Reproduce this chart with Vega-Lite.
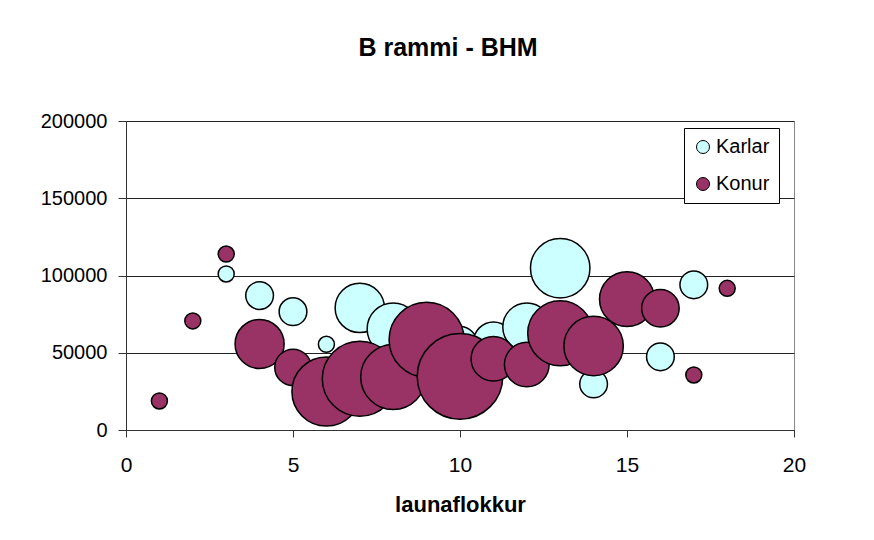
{
  "$schema": "https://vega.github.io/schema/vega-lite/v6.json",
  "autosize": "none",
  "width": 668,
  "height": 309,
  "padding": {"left": 126, "top": 121, "right": 80, "bottom": 110},
  "background": "white",
  "title": {
    "text": "B rammi - BHM",
    "font": "Liberation Sans",
    "fontSize": 25,
    "fontWeight": "bold",
    "color": "black",
    "anchor": "middle",
    "dx": -12,
    "offset": 50
  },
  "data": {
    "values": [
      {"launaflokkur": 3, "laun": 101000, "fjoldi": 1, "kyn": "Karlar"},
      {"launaflokkur": 4, "laun": 87000, "fjoldi": 3, "kyn": "Karlar"},
      {"launaflokkur": 5, "laun": 76600, "fjoldi": 3, "kyn": "Karlar"},
      {"launaflokkur": 6, "laun": 55500, "fjoldi": 1, "kyn": "Karlar"},
      {"launaflokkur": 7, "laun": 79000, "fjoldi": 9.5, "kyn": "Karlar"},
      {"launaflokkur": 8, "laun": 65400, "fjoldi": 10.6, "kyn": "Karlar"},
      {"launaflokkur": 10, "laun": 56000, "fjoldi": 4.5, "kyn": "Karlar"},
      {"launaflokkur": 11, "laun": 57000, "fjoldi": 6.2, "kyn": "Karlar"},
      {"launaflokkur": 12, "laun": 66700, "fjoldi": 9, "kyn": "Karlar"},
      {"launaflokkur": 13, "laun": 104700, "fjoldi": 13.8, "kyn": "Karlar"},
      {"launaflokkur": 14, "laun": 29800, "fjoldi": 3, "kyn": "Karlar"},
      {"launaflokkur": 16, "laun": 47400, "fjoldi": 3, "kyn": "Karlar"},
      {"launaflokkur": 17, "laun": 94000, "fjoldi": 3, "kyn": "Karlar"},
      {"launaflokkur": 1, "laun": 18800, "fjoldi": 1, "kyn": "Konur"},
      {"launaflokkur": 2, "laun": 70600, "fjoldi": 1, "kyn": "Konur"},
      {"launaflokkur": 3, "laun": 113900, "fjoldi": 1, "kyn": "Konur"},
      {"launaflokkur": 4, "laun": 55700, "fjoldi": 9.4, "kyn": "Konur"},
      {"launaflokkur": 5, "laun": 40500, "fjoldi": 5.2, "kyn": "Konur"},
      {"launaflokkur": 6, "laun": 24900, "fjoldi": 18.6, "kyn": "Konur"},
      {"launaflokkur": 7, "laun": 33200, "fjoldi": 22, "kyn": "Konur"},
      {"launaflokkur": 8, "laun": 34300, "fjoldi": 16.5, "kyn": "Konur"},
      {"launaflokkur": 9, "laun": 58400, "fjoldi": 22, "kyn": "Konur"},
      {"launaflokkur": 10, "laun": 34700, "fjoldi": 28.6, "kyn": "Konur"},
      {"launaflokkur": 11, "laun": 46100, "fjoldi": 7.8, "kyn": "Konur"},
      {"launaflokkur": 12, "laun": 42400, "fjoldi": 7.8, "kyn": "Konur"},
      {"launaflokkur": 13, "laun": 62600, "fjoldi": 16.5, "kyn": "Konur"},
      {"launaflokkur": 14, "laun": 54400, "fjoldi": 13.8, "kyn": "Konur"},
      {"launaflokkur": 15, "laun": 84700, "fjoldi": 11.8, "kyn": "Konur"},
      {"launaflokkur": 16, "laun": 78800, "fjoldi": 5.5, "kyn": "Konur"},
      {"launaflokkur": 17, "laun": 35600, "fjoldi": 1, "kyn": "Konur"},
      {"launaflokkur": 18, "laun": 91700, "fjoldi": 1, "kyn": "Konur"}
    ]
  },
  "mark": {"type": "circle", "opacity": 1, "stroke": "black", "strokeWidth": 1.5},
  "encoding": {
    "x": {
      "field": "launaflokkur",
      "type": "quantitative",
      "scale": {"domain": [0, 20], "nice": false, "zero": true},
      "axis": {
        "title": "launaflokkur",
        "values": [0, 5, 10, 15, 20],
        "grid": false,
        "labelFlush": false,
        "domainColor": "#333",
        "tickColor": "#333",
        "tickSize": 7,
        "labelFont": "Liberation Sans",
        "labelFontSize": 21,
        "labelColor": "black",
        "labelPadding": 17,
        "titleFont": "Liberation Sans",
        "titleFontSize": 22,
        "titleFontWeight": "bold",
        "titleColor": "black",
        "titlePadding": 19
      }
    },
    "y": {
      "field": "laun",
      "type": "quantitative",
      "scale": {"domain": [0, 200000], "nice": false},
      "axis": {
        "title": null,
        "values": [0, 50000, 100000, 150000, 200000],
        "format": "d",
        "grid": true,
        "gridColor": "#222",
        "gridWidth": 1,
        "domainColor": "#333",
        "tickColor": "#333",
        "tickSize": 8,
        "labelFont": "Liberation Sans",
        "labelFontSize": 20,
        "labelColor": "black",
        "labelPadding": 11
      }
    },
    "color": {
      "field": "kyn",
      "type": "nominal",
      "scale": {"domain": ["Karlar", "Konur"], "range": ["#CCFFFF", "#993366"]},
      "legend": {
        "title": null,
        "orient": "none",
        "legendX": 558,
        "legendY": 7,
        "direction": "vertical",
        "fillColor": "white",
        "strokeColor": "black",
        "padding": 9,
        "rowPadding": 17,
        "symbolType": "circle",
        "symbolSize": 169,
        "symbolStrokeColor": "black",
        "symbolStrokeWidth": 1,
        "symbolOpacity": 1,
        "labelFont": "Liberation Sans",
        "labelFontSize": 20,
        "labelColor": "black",
        "labelOffset": 3
      }
    },
    "size": {
      "field": "fjoldi",
      "type": "quantitative",
      "scale": {"domain": [0, 30], "range": [0, 7680], "zero": true},
      "legend": null
    }
  },
  "config": {
    "view": {"stroke": "#888", "strokeWidth": 1}
  }
}
